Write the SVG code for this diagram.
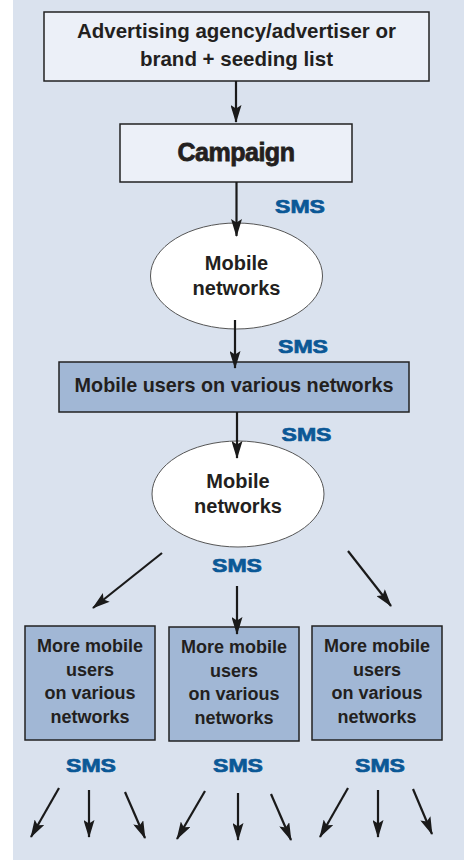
<svg xmlns="http://www.w3.org/2000/svg" width="464" height="860" viewBox="0 0 464 860">
<defs>
<marker id="ah" viewBox="0 0 18 11" refX="17" refY="5.5" markerWidth="18" markerHeight="11" markerUnits="userSpaceOnUse" orient="auto">
<path d="M0,0 L18,5.5 L0,11 L3.5,5.5 z" fill="#1a1a1a"/>
</marker>
<style>
.t{font-family:"Liberation Sans",Arial,sans-serif;font-weight:bold;fill:#231f20;text-anchor:middle}
.sms{font-family:"Liberation Sans",Arial,sans-serif;font-weight:bold;fill:#0b5896;stroke:#0b5896;stroke-width:0.7;text-anchor:middle;font-size:19px}
.lt{fill:#ecf0f8;stroke:#222;stroke-width:1.5}
.bl{fill:#a1b7d5;stroke:#222;stroke-width:1.5}
.el{fill:#ffffff;stroke:#555;stroke-width:1}
.c line{stroke:#1a1a1a;stroke-width:2.2;marker-end:url(#ah)}
</style>
</defs>
<rect x="13" y="0" width="451" height="860" fill="#dae2ee"/>
<g id="agency">
<rect class="lt" x="44" y="12" width="385" height="69"/>
<text class="t" x="236.5" y="38" font-size="20.5">Advertising agency/advertiser or</text>
<text class="t" x="236.5" y="66" font-size="20.5">brand + seeding list</text>
</g>
<g id="campaign">
<rect class="lt" x="120" y="124" width="232" height="58"/>
<text class="t" x="236" y="161" font-size="25" letter-spacing="-0.5" stroke="#231f20" stroke-width="0.8">Campaign</text>
</g>
<g id="networks1">
<ellipse class="el" cx="236.5" cy="276" rx="86" ry="53"/>
<text class="t" x="236.5" y="270" font-size="20">Mobile</text>
<text class="t" x="236.5" y="295" font-size="20">networks</text>
</g>
<g id="users">
<rect class="bl" x="59" y="362" width="350" height="50"/>
<text class="t" x="234" y="392" font-size="19.8">Mobile users on various networks</text>
</g>
<g id="networks2">
<ellipse class="el" cx="238" cy="494" rx="86" ry="53"/>
<text class="t" x="238" y="488" font-size="20">Mobile</text>
<text class="t" x="238" y="513" font-size="20">networks</text>
</g>
<g id="more1">
<rect class="bl" x="25" y="626" width="130" height="114"/>
<text class="t" x="90" y="652" font-size="18">More mobile</text>
<text class="t" x="90" y="676" font-size="18">users</text>
<text class="t" x="90" y="699" font-size="18">on various</text>
<text class="t" x="90" y="723" font-size="18">networks</text>
</g>
<g id="more2">
<rect class="bl" x="169" y="627" width="130" height="114"/>
<text class="t" x="234" y="653" font-size="18">More mobile</text>
<text class="t" x="234" y="677" font-size="18">users</text>
<text class="t" x="234" y="700" font-size="18">on various</text>
<text class="t" x="234" y="724" font-size="18">networks</text>
</g>
<g id="more3">
<rect class="bl" x="312" y="626" width="130" height="114"/>
<text class="t" x="377" y="652" font-size="18">More mobile</text>
<text class="t" x="377" y="676" font-size="18">users</text>
<text class="t" x="377" y="699" font-size="18">on various</text>
<text class="t" x="377" y="723" font-size="18">networks</text>
</g>
<g id="labels">
<text class="sms" x="300" y="213" textLength="50" lengthAdjust="spacingAndGlyphs">SMS</text>
<text class="sms" x="303" y="353" textLength="50" lengthAdjust="spacingAndGlyphs">SMS</text>
<text class="sms" x="306.5" y="441" textLength="50" lengthAdjust="spacingAndGlyphs">SMS</text>
<text class="sms" x="237" y="572" textLength="50" lengthAdjust="spacingAndGlyphs">SMS</text>
<text class="sms" x="91" y="772" textLength="50" lengthAdjust="spacingAndGlyphs">SMS</text>
<text class="sms" x="238" y="772" textLength="50" lengthAdjust="spacingAndGlyphs">SMS</text>
<text class="sms" x="380" y="772" textLength="50" lengthAdjust="spacingAndGlyphs">SMS</text>
</g>
<g id="connectors" class="c">
<line x1="236" y1="81" x2="236" y2="122"/>
<line x1="236.5" y1="182" x2="236.5" y2="236"/>
<line x1="235" y1="320" x2="235" y2="368"/>
<line x1="237" y1="412" x2="237" y2="458"/>
<line x1="162" y1="553" x2="93" y2="608"/>
<line x1="237" y1="586" x2="237" y2="634"/>
<line x1="348" y1="551" x2="391" y2="606"/>
<line x1="59" y1="788" x2="31" y2="837"/>
<line x1="89" y1="790" x2="89" y2="837"/>
<line x1="125" y1="792" x2="145" y2="838"/>
<line x1="205" y1="791" x2="177" y2="839"/>
<line x1="238" y1="793" x2="238" y2="840"/>
<line x1="271" y1="794" x2="291" y2="840"/>
<line x1="348" y1="788" x2="320" y2="837"/>
<line x1="378" y1="790" x2="378" y2="837"/>
<line x1="413" y1="789" x2="432" y2="834"/>
</g>
</svg>
